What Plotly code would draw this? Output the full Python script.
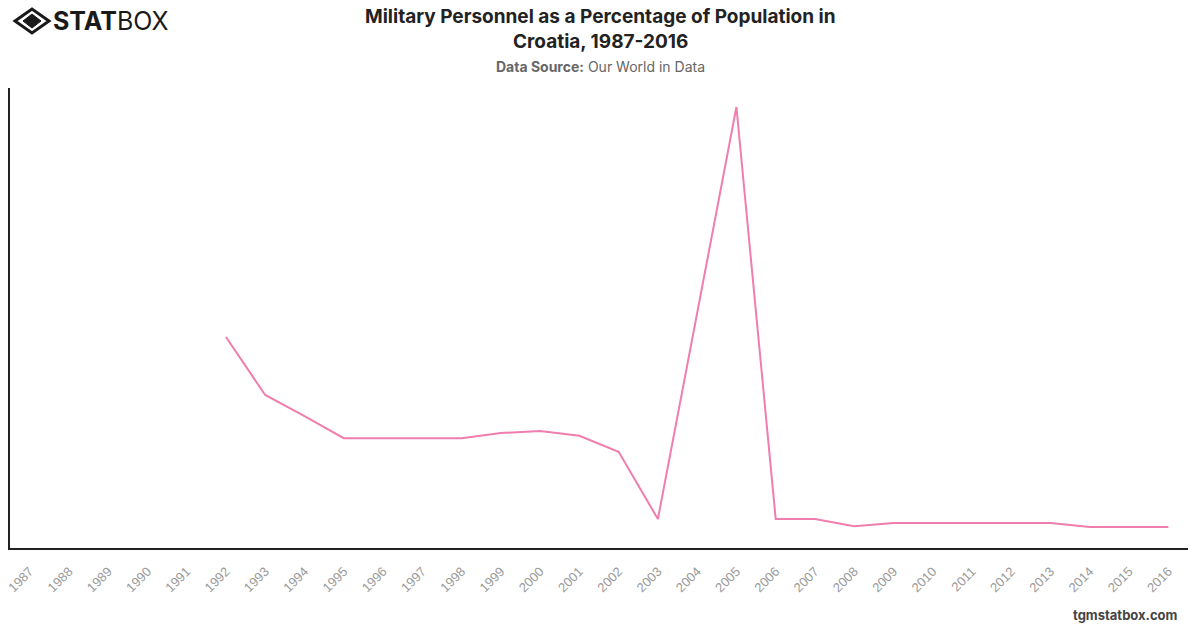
import plotly.graph_objects as go

years = [str(y) for y in range(1987, 2017)]
values = [None, None, None, None, None,
          0.825, 0.68, 0.627, 0.572, 0.572, 0.572, 0.572, 0.585, 0.59, 0.578,
          0.538, 0.37, 0.885, 1.40, 0.37, 0.37, 0.352, 0.36, 0.36, 0.36,
          0.36, 0.36, 0.35, 0.35, 0.35]

W, H = 1200, 628
L, R, T, B = 10, 12, 88, 80
PW, PH = W - L - R, H - T - B


def px(x):
    return (x - L) / PW


def py(y):
    return (H - B - y) / PH


fig = go.Figure()
fig.add_trace(go.Scatter(x=years, y=values, mode="lines",
                         line=dict(color="#ef7eae", width=2),
                         connectgaps=False, hoverinfo="x+y"))

fig.update_layout(
    width=W, height=H,
    paper_bgcolor="white", plot_bgcolor="white",
    margin=dict(l=L, r=R, t=T, b=B, autoexpand=False),
    showlegend=False,
    font=dict(family="Inter, Roboto, sans-serif"),
)
fig.update_xaxes(type="category", showline=True, linecolor="#222", linewidth=1.5,
                 showgrid=False, ticks="", tickangle=-45, automargin=False,
                 ticklabelstandoff=9,
                 tickfont=dict(size=13, color="#9a9a9a", family="Liberation Sans, Arial, sans-serif"),
                 range=[-0.5, 29.5])
fig.update_yaxes(showline=True, linecolor="#222", linewidth=1.5, showgrid=False,
                 zeroline=False, showticklabels=False, ticks="", automargin=False,
                 range=[0.2975, 1.4475])

TF = "Inter, sans-serif"
fig.add_annotation(text="<b>Military Personnel as a Percentage of Population in</b>",
                   xref="paper", yref="paper", x=px(600), xanchor="center",
                   y=py(17), yanchor="middle", showarrow=False,
                   font=dict(size=19, color="#222", family=TF))
fig.add_annotation(text="<b>Croatia, 1987-2016</b>",
                   xref="paper", yref="paper", x=px(600), xanchor="center",
                   y=py(41), yanchor="middle", showarrow=False,
                   font=dict(size=19, color="#222", family=TF))
fig.add_annotation(text="<b>Data Source:</b> Our World in Data",
                   xref="paper", yref="paper", x=px(600), xanchor="center",
                   y=py(67), yanchor="middle", showarrow=False,
                   font=dict(size=14, color="#666", family=TF))
fig.add_annotation(text="<b>tgmstatbox.com</b>",
                   xref="paper", yref="paper", x=px(1180), xanchor="right",
                   y=py(615), yanchor="middle", showarrow=False,
                   font=dict(size=13, color="#444", family=TF))
# logo
fig.add_annotation(text="<b>STAT</b>BOX",
                   xref="paper", yref="paper", x=px(51), xanchor="left",
                   y=py(21), yanchor="middle", showarrow=False,
                   font=dict(size=25, color="#1a1a1a", family=TF))
cx, cy = 32, 21
fig.add_shape(type="path", xref="paper", yref="paper",
              path=" ".join([
                  f"M {px(cx-17)} {py(cy)}",
                  f"L {px(cx)} {py(cy-12)}",
                  f"L {px(cx+17)} {py(cy)}",
                  f"L {px(cx)} {py(cy+12)} Z"]),
              line=dict(color="#1a1a1a", width=3), fillcolor="white")
fig.add_shape(type="path", xref="paper", yref="paper",
              path=" ".join([
                  f"M {px(cx-9)} {py(cy)}",
                  f"L {px(cx)} {py(cy-7)}",
                  f"L {px(cx+9)} {py(cy)}",
                  f"L {px(cx)} {py(cy+7)} Z"]),
              line=dict(color="#1a1a1a", width=1), fillcolor="#1a1a1a")

fig.write_html("out.html")
